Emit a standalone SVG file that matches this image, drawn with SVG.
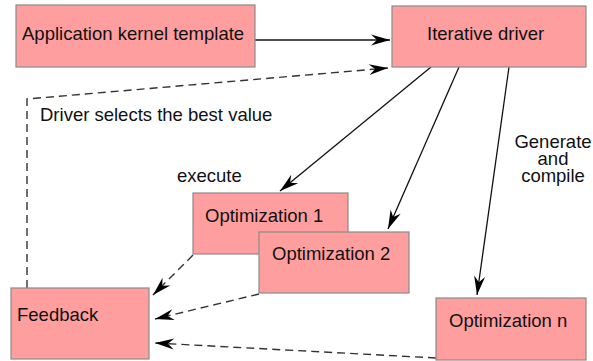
<svg xmlns="http://www.w3.org/2000/svg" width="593" height="361" viewBox="0 0 593 361">
<defs>
<style>
.box{fill:#ff9e9e;stroke:#8a8a8a;stroke-width:1.2}
.t{font-family:"Liberation Sans",Arial,Helvetica,sans-serif;font-size:18.5px;fill:#111}
.c{fill:none;stroke:#111;stroke-width:1.3}
.d{fill:none;stroke:#333;stroke-width:1.4;stroke-dasharray:8,5}
</style>
<marker id="ah" viewBox="-20 -6 22 12" refX="0" refY="0" markerWidth="22" markerHeight="12" markerUnits="userSpaceOnUse" orient="auto">
<path d="M0,0 L-19,-5.5 L-13,0 L-19,5.5 Z" fill="#000"/>
</marker>
</defs>
<rect width="593" height="361" fill="#fff"/>
<g id="connectors">
<line class="c" x1="255" y1="40" x2="390" y2="40" marker-end="url(#ah)"/>
<polyline class="d" points="27,288 27,99 388,68" marker-end="url(#ah)"/>
<line class="c" x1="431" y1="67" x2="280" y2="191" marker-end="url(#ah)"/>
<line class="c" x1="459" y1="67" x2="388" y2="229" marker-end="url(#ah)"/>
<line class="c" x1="509" y1="67" x2="477" y2="295" marker-end="url(#ah)"/>
<line class="d" x1="193" y1="255" x2="153" y2="295" marker-end="url(#ah)"/>
<line class="d" x1="259" y1="294" x2="155" y2="319" marker-end="url(#ah)"/>
<line class="d" x1="436" y1="358" x2="155" y2="343" marker-end="url(#ah)"/>
</g>
<g id="app-kernel">
<rect class="box" x="16" y="5" width="239" height="62"/>
<text class="t" x="22" y="40">Application kernel template</text>
</g>
<g id="iterative-driver">
<rect class="box" x="392" y="6" width="194" height="61"/>
<text class="t" x="427" y="40">Iterative driver</text>
</g>
<g id="opt1">
<rect class="box" x="193" y="193" width="155" height="61"/>
<text class="t" x="205" y="222">Optimization 1</text>
</g>
<g id="opt2">
<rect class="box" x="259" y="232" width="150" height="61"/>
<text class="t" x="272" y="260">Optimization 2</text>
</g>
<g id="optn">
<rect class="box" x="436" y="298" width="150" height="62"/>
<text class="t" x="449" y="327">Optimization n</text>
</g>
<g id="feedback">
<rect class="box" x="11" y="288" width="138" height="71"/>
<text class="t" x="17" y="321">Feedback</text>
</g>
<g id="labels">
<text class="t" x="40" y="121">Driver selects the best value</text>
<text class="t" x="177" y="182">execute</text>
<text class="t" x="553" y="148" text-anchor="middle">Generate</text>
<text class="t" x="553" y="165" text-anchor="middle">and</text>
<text class="t" x="553" y="182" text-anchor="middle">compile</text>
</g>
</svg>
